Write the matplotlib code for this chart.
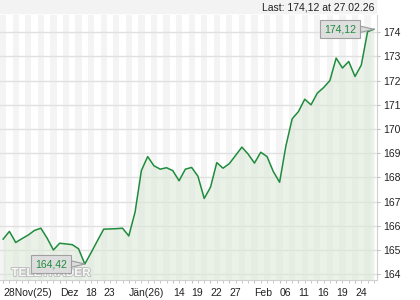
import matplotlib
matplotlib.use('Agg')
import matplotlib.pyplot as plt
import matplotlib.patheffects as pe
from matplotlib.patches import Rectangle
import numpy as np

# daily closes, 28.11.2025 - 27.02.2026
prices = [165.45, 165.77, 165.31, 165.47, 165.62, 165.81, 165.90, 165.49, 165.00, 165.28,
          165.25, 165.22, 165.05, 164.42, 164.89, 165.38, 165.86, 165.87, 165.88, 165.90,
          165.58, 166.57, 168.28, 168.86, 168.48, 168.34, 168.40, 168.28, 167.86, 168.34,
          168.41, 168.05, 167.13, 167.59, 168.61, 168.38, 168.57, 168.91, 169.25, 168.96,
          168.59, 169.04, 168.86, 168.24, 167.80, 169.30, 170.42, 170.72, 171.23, 171.00,
          171.48, 171.71, 172.00, 172.93, 172.52, 172.79, 172.17, 172.64, 174.02, 174.12]

tick_pos = [0, 9, 13, 16, 20, 27, 30, 33, 36, 40, 44, 47, 50, 53, 56]
tick_labels = ['28Nov(25)', 'Dez', '18', '23', 'Jän(26)', '14', '19', '22', '27',
               'Feb', '06', '11', '16', '19', '24']
y_ticks = list(range(164, 175))
last_text = 'Last: 174,12 at 27.02.26'

green = '#1e8c3c'
plt.rcParams['font.family'] = ['Liberation Sans', 'DejaVu Sans']

fig = plt.figure(figsize=(4.2, 3), dpi=100)
ax = fig.add_axes([0, 20 / 300, 377 / 420, 265 / 300])

n = len(prices)
x = np.arange(n)
ymin, ymax = 163.76, 174.71
ax.set_xlim(-0.5, n - 0.5)
ax.set_ylim(ymin, ymax)

# striped background
for i in range(0, n, 2):
    ax.axvspan(i - 0.5, i + 0.5, color='#f4f4f4', lw=0, zorder=0)
for yt in y_ticks:
    ax.axhline(yt, color='#e0e0e0', lw=1, zorder=0.5)

ax.fill_between(x, prices, ymin, color='#dce8d8', alpha=0.6, lw=0, zorder=1)
ax.plot(x, prices, color=green, lw=1.1, zorder=3)

# axes styling
for s in ['left', 'top']:
    ax.spines[s].set_visible(False)
for s in ['right', 'bottom']:
    ax.spines[s].set_color('#d0d0d0')
ax.yaxis.tick_right()
ax.set_yticks(y_ticks)
ax.set_yticklabels([str(v) for v in y_ticks])
ax.set_xticks(tick_pos)
ax.set_xticklabels(tick_labels, ha='left')
ax.set_xticks(x, minor=True)
ax.tick_params(axis='both', which='both', length=2.5, color='#c0c0c0',
               labelsize=7.5, labelcolor='#222222')
ax.tick_params(axis='x', pad=3)
ax.tick_params(axis='y', pad=2)

# header strip
fig.patches.append(Rectangle((0, 1 - 13 / 300), 376 / 420, 13 / 300,
                             transform=fig.transFigure, color='#f3f3f3', zorder=0))
fig.text(374 / 420, 1 - 7 / 300, last_text, ha='right', va='center',
         fontsize=7.5, color='#222222')

# watermark
ax.text(1.3, 163.92, 'TELETRADER', fontsize=8.5, fontweight='bold',
        family=['Liberation Sans Narrow', 'Liberation Sans'], color='white',
        alpha=0.9, zorder=4,
        path_effects=[pe.withStroke(linewidth=1.3, foreground='#b8b8b8')])

# callouts for last and min values
imin = int(np.argmin(prices))
callouts = [(n - 1, prices[-1], n - 6.4), (imin, prices[imin], imin - 5.4)]
for xi, yi, xt in callouts:
    ax.annotate(f'{yi:.2f}'.replace('.', ','), xy=(xi, yi), xytext=(xt, yi),
                ha='center', va='center', fontsize=7.5, color=green, zorder=5,
                bbox=dict(boxstyle='square,pad=0.4', fc='#dcdcdc', ec='#9a9a9a',
                          lw=0.8, alpha=0.9),
                arrowprops=dict(arrowstyle='wedge,tail_width=0.6,shrink_factor=0.5',
                                fc='#dcdcdc', ec='#9a9a9a', lw=0.8,
                                shrinkA=0, shrinkB=0))

fig.savefig('out.png', dpi=100)
